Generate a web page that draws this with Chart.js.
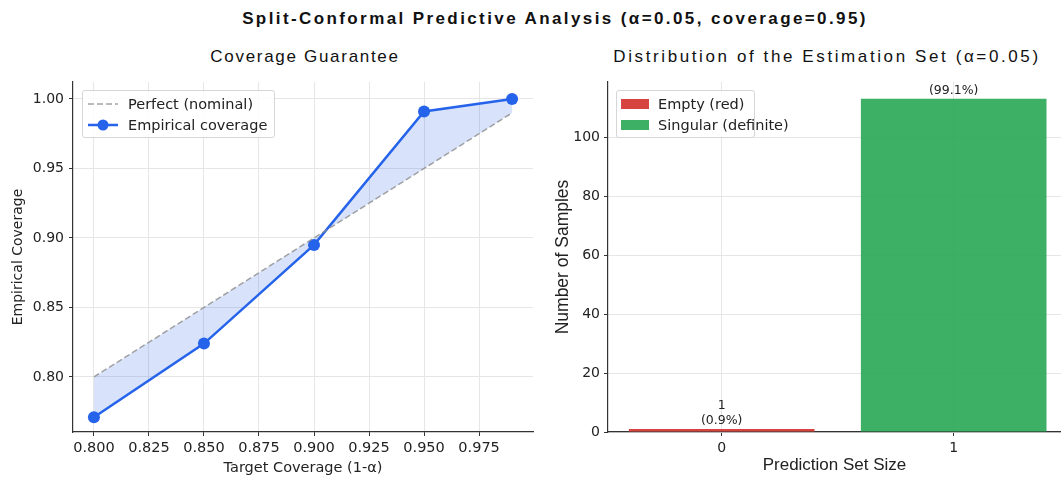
<!DOCTYPE html>
<html>
<head>
<meta charset="utf-8">
<script src="https://cdn.jsdelivr.net/npm/chart.js@4.4.0/dist/chart.umd.min.js"></script>
<style>
  body { margin: 0; background: #fff; width: 1061px; height: 478px; position: relative; overflow: hidden; }
  canvas { position: absolute; top: 0; }
  #coverageChart { left: 0; }
  #setSizeChart { left: 545px; }
  .title { position: absolute; white-space: nowrap; transform: translateX(-50%); font-family: "Liberation Sans", Arial, sans-serif; color: #111; line-height: 20px; }
  #suptitle { left: 555px; top: 9px; font-size: 17px; font-weight: bold; letter-spacing: 2.4px; }
  .sub { top: 47px; font-size: 17px; }
  .legend { position: absolute; border: 1px solid #d6d6d6; border-radius: 3px; background: rgba(255,255,255,0.85); font-family: "DejaVu Sans", sans-serif; font-size: 14.5px; color: #222; box-sizing: border-box; padding: 2px 4px; white-space: nowrap; }
  .legend div { display: flex; align-items: center; height: 21px; white-space: nowrap; }
  .legend svg { margin-right: 9px; flex: none; }
</style>
</head>
<body>
<div id="suptitle" class="title">Split-Conformal Predictive Analysis (α=0.05, coverage=0.95)</div>
<div class="title sub" style="left:305px;letter-spacing:1.7px">Coverage Guarantee</div>
<div class="title sub" style="left:827px;letter-spacing:2.6px">Distribution of the Estimation Set (α=0.05)</div>
<canvas id="coverageChart" width="545" height="478"></canvas>
<canvas id="setSizeChart" width="516" height="478"></canvas>
<div id="coverageLegend" class="legend" style="left:82px;top:90px;width:193px;height:48px"></div>
<div id="setSizeLegend" class="legend" style="left:616px;top:90px;width:139px;height:48px"></div>
<script>
// coverage panel
const targetCoverage = [0.80, 0.85, 0.90, 0.95, 0.99];
const empiricalCoverage = [0.771, 0.824, 0.895, 0.991, 1.000];
const coverageTicksX = [0.800, 0.825, 0.850, 0.875, 0.900, 0.925, 0.950, 0.975];
const coverageTicksY = [0.80, 0.85, 0.90, 0.95, 1.00];

// set-size panel
const setSizes = [0, 1];
const setCounts = [1, 113];
const setNames = ['Empty (red)', 'Singular (definite)'];
const countTicks = [0, 20, 40, 60, 80, 100];

const colors = {
    blue: '#2563eb',
    blueFill: 'rgba(37, 99, 235, 0.18)',
    gray: 'rgba(140, 140, 140, 0.8)',
    red: '#d7443f',
    green: 'rgba(40, 167, 85, 0.9)',
    grid: '#e6e6e6',
    axis: '#333'
};

function fixedTicks(values) {
    return function(scale) {
        scale.ticks = values.map(v => ({ value: v }));
    };
}

new Chart(document.getElementById('coverageChart'), {
    type: 'line',
    data: {
        datasets: [{
            label: 'Perfect (nominal)',
            data: targetCoverage.map(t => ({ x: t, y: t })),
            borderColor: colors.gray,
            borderWidth: 1.5,
            borderDash: [6, 3],
            pointRadius: 0,
            fill: false
        }, {
            label: 'Empirical coverage',
            data: targetCoverage.map((t, i) => ({ x: t, y: empiricalCoverage[i] })),
            borderColor: colors.blue,
            backgroundColor: colors.blueFill,
            borderWidth: 2.5,
            pointRadius: 6,
            pointBackgroundColor: colors.blue,
            pointBorderWidth: 0,
            fill: { target: 0, above: colors.blueFill, below: colors.blueFill }
        }]
    },
    options: {
        responsive: false,
        animation: false,
        layout: { padding: { left: 0, right: 12, top: 82, bottom: 0 } },
        plugins: { legend: { display: false }, tooltip: { enabled: false } },
        scales: {
            x: {
                type: 'linear',
                min: 0.7905,
                max: 0.9995,
                afterBuildTicks: fixedTicks(coverageTicksX),
                afterFit: s => { s.height = 46; },
                grid: { color: colors.grid, tickColor: colors.axis, tickLength: 4 },
                border: { color: colors.axis, width: 1.2 },
                ticks: { font: { family: 'DejaVu Sans', size: 14.5 }, color: '#222', padding: 4, maxRotation: 0, callback: v => v.toFixed(3) },
                title: { display: true, text: 'Target Coverage (1-α)', font: { family: 'DejaVu Sans', size: 14.5 }, color: '#222', padding: { top: 0, bottom: 1 } }
            },
            y: {
                min: 0.7604,
                max: 1.0122,
                afterBuildTicks: fixedTicks(coverageTicksY),
                afterFit: s => { s.width = 73; },
                grid: { color: colors.grid, tickColor: colors.axis, tickLength: 4 },
                border: { color: colors.axis, width: 1.2 },
                ticks: { font: { family: 'DejaVu Sans', size: 14 }, color: '#222', padding: 5, callback: v => v.toFixed(2) },
                title: { display: true, text: 'Empirical Coverage', font: { family: 'DejaVu Sans', size: 14 }, color: '#222', padding: { top: 10, bottom: 0 } }
            }
        }
    }
});

const totalCount = setCounts.reduce((a, b) => a + b, 0);

const barLabels = {
    id: 'barLabels',
    afterDatasetsDraw(chart) {
        const ctx = chart.ctx;
        const top = chart.chartArea.top;
        ctx.save();
        ctx.font = '12.5px "DejaVu Sans"';
        ctx.fillStyle = '#222';
        ctx.textAlign = 'center';
        ctx.textBaseline = 'middle';
        chart.data.datasets.forEach((ds, i) => {
            const bar = chart.getDatasetMeta(i).data[0];
            const count = ds.data[0].y;
            const pct = '(' + (count / totalCount * 100).toFixed(1) + '%)';
            const lines = [[String(count), bar.y - 23], [pct, bar.y - 8]];
            lines.forEach(([txt, y]) => {
                if (y - 6 >= top) ctx.fillText(txt, bar.x, y);
            });
        });
        ctx.restore();
    }
};

new Chart(document.getElementById('setSizeChart'), {
    type: 'bar',
    data: {
        datasets: setNames.map((name, i) => ({
            label: name,
            data: [{ x: setSizes[i], y: setCounts[i] }],
            backgroundColor: i === 0 ? colors.red : colors.green,
            borderWidth: 0,
            grouped: false,
            categoryPercentage: 1,
            barPercentage: 0.8
        }))
    },
    options: {
        responsive: false,
        animation: false,
        layout: { padding: { left: 0, right: 0, top: 82, bottom: 0 } },
        plugins: { legend: { display: false }, tooltip: { enabled: false } },
        scales: {
            x: {
                type: 'linear',
                offset: false,
                min: -0.49,
                max: 1.4625,
                afterBuildTicks: fixedTicks(setSizes),
                afterFit: s => { s.height = 46; },
                grid: { offset: false, color: colors.grid, tickColor: colors.axis, tickLength: 4 },
                border: { color: colors.axis, width: 1.2 },
                ticks: { font: { family: 'DejaVu Sans', size: 14 }, color: '#222', padding: 4, callback: v => String(v) },
                title: { display: true, text: 'Prediction Set Size', font: { family: 'Liberation Sans', size: 17 }, color: '#222', padding: { top: 0, bottom: 2 } }
            },
            y: {
                min: 0,
                max: 118.65,
                afterBuildTicks: fixedTicks(countTicks),
                afterFit: s => { s.width = 63; },
                grid: { color: colors.grid, tickColor: colors.axis, tickLength: 4 },
                border: { color: colors.axis, width: 1.2 },
                ticks: { font: { family: 'DejaVu Sans', size: 14 }, color: '#222', padding: 4 },
                title: { display: true, text: 'Number of Samples', font: { family: 'Liberation Sans', size: 17.5 }, color: '#222', padding: { top: 8, bottom: 0 } }
            }
        }
    },
    plugins: [barLabels]
});

// legends as html
function lineIcon(color, dashed, marker) {
    return '<svg width="32" height="12"><line x1="1" y1="6" x2="31" y2="6" stroke="' + color + '" stroke-width="' + (dashed ? 1.5 : 2.5) + '"' +
        (dashed ? ' stroke-dasharray="6 3"' : '') + '/>' +
        (marker ? '<circle cx="16" cy="6" r="5.5" fill="' + color + '"/>' : '') + '</svg>';
}
function boxIcon(color) {
    return '<svg width="28" height="12"><rect x="0" y="1" width="28" height="10" fill="' + color + '"/></svg>';
}
document.getElementById('coverageLegend').innerHTML =
    '<div>' + lineIcon(colors.gray, true, false) + '<span>Perfect (nominal)</span></div>' +
    '<div>' + lineIcon(colors.blue, false, true) + '<span>Empirical coverage</span></div>';
document.getElementById('setSizeLegend').innerHTML = setNames.map((n, i) =>
    '<div>' + boxIcon(i === 0 ? colors.red : colors.green) + '<span>' + n + '</span></div>').join('');
</script>
</body>
</html>
